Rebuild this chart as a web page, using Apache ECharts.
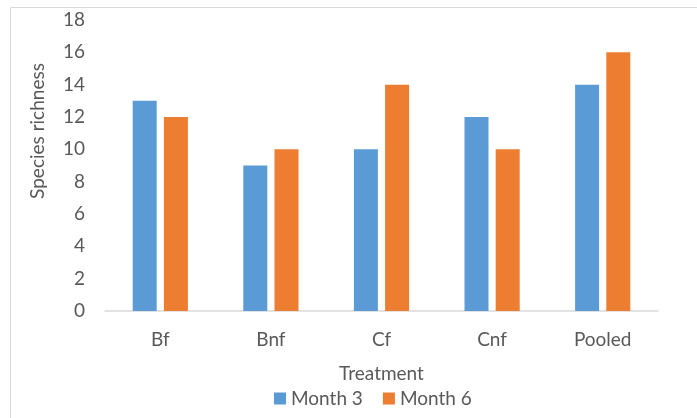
<!DOCTYPE html>
<html>
<head>
<meta charset="utf-8">
<script src="https://cdn.jsdelivr.net/npm/echarts@6/dist/echarts.min.js"></script>
<style>
  html, body { margin: 0; padding: 0; background: #fff; }
  #chart { width: 697px; height: 418px; }
</style>
</head>
<body>
<div id="chart"></div>
<script>
const categories = ['Bf', 'Bnf', 'Cf', 'Cnf', 'Pooled']
const month3 = [13, 9, 10, 12, 14]
const month6 = [12, 10, 14, 10, 16]

const font = 'Lato, "Open Sans", sans-serif'
const textColor = '#595959'

const chart = echarts.init(document.getElementById('chart'))
chart.setOption({
  animation: false,
  textStyle: { fontFamily: font },
  grid: { left: 105, right: 39, top: 20, bottom: 107 },
  // chart border + rotated y title
  graphic: [
    { type: 'rect', shape: { x: 10.5, y: 7.5, width: 700, height: 420 }, style: { fill: 'none', stroke: '#d9d9d9', lineWidth: 1 }, silent: true },
    { type: 'text', x: 38, y: 131, rotation: Math.PI / 2, style: { text: 'Species richness', fill: textColor, font: '19px ' + font, align: 'center', verticalAlign: 'middle' } }
  ],
  legend: {
    bottom: 5,
    left: 269,
    itemWidth: 12,
    itemHeight: 12,
    itemGap: 20,
    icon: 'rect',
    textStyle: { color: textColor, fontSize: 19, fontFamily: font }
  },
  xAxis: {
    type: 'category',
    data: categories,
    name: 'Treatment',
    nameLocation: 'middle',
    nameGap: 53,
    nameTextStyle: { color: textColor, fontSize: 19, fontFamily: font },
    axisLine: { lineStyle: { color: '#d9d9d9', width: 1.5 } },
    axisTick: { show: false },
    axisLabel: { color: textColor, fontSize: 19, margin: 19 }
  },
  yAxis: {
    type: 'value',
    min: 0,
    max: 18,
    interval: 2,
    splitLine: { show: false },
    axisLine: { show: false },
    axisTick: { show: false },
    axisLabel: { color: textColor, fontSize: 19, margin: 20 }
  },
  series: [
    { name: 'Month 3', type: 'bar', data: month3, barWidth: 24, barGap: '30%', itemStyle: { color: '#5B9BD5' } },
    { name: 'Month 6', type: 'bar', data: month6, barWidth: 24, barGap: '30%', itemStyle: { color: '#ED7D31' } }
  ]
})
</script>
</body>
</html>
